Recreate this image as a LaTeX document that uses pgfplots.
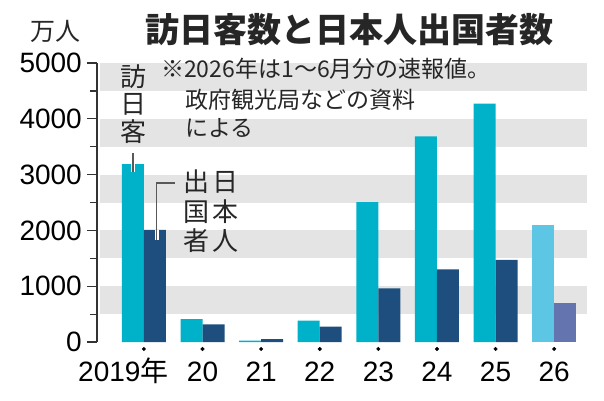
\documentclass[border=0pt]{standalone}
\usepackage{fontspec}
\usepackage{pgfplots}
\pgfplotsset{compat=1.18}
\setmainfont{Liberation Sans}
\newfontfamily\jp{Noto Sans CJK JP}
\definecolor{visit}{HTML}{00B2C9}
\definecolor{outb}{HTML}{1D4E7E}
\definecolor{visitL}{HTML}{5CC6E4}
\definecolor{outbL}{HTML}{6474AE}
\definecolor{band}{HTML}{E4E4E4}
\definecolor{axc}{HTML}{333333}
\begin{document}
\begin{tikzpicture}[x=1pt,y=1pt]
\useasboundingbox (0,0) rectangle (604,400);
\begin{axis}[
  at={(97pt,58pt)}, anchor=south west,
  scale only axis, width=490pt, height=279pt,
  xmin=-0.8, xmax=7.56, ymin=0, ymax=5000,
  clip=false,
  axis lines=left,
  axis line style={-, draw=axc, line width=1.2pt},
  x axis line style={draw=none},
  tick align=outside,
  xtick={0,...,7},
  xticklabels={\hspace*{-41pt}2019{\jp 年},20,21,22,23,24,25,26},
  xtick style={draw=none},
  xticklabel style={font=\fontsize{28}{28}\selectfont, anchor=base, inner sep=0pt, yshift=-29pt},
  ytick={0,1000,2000,3000,4000,5000},
  minor ytick={500,1500,2500,3500,4500},
  major tick length=10pt, minor tick length=7pt,
  ytick style={draw=axc, line width=1.2pt},
  minor tick style={draw=axc, line width=1.2pt},
  scaled y ticks=false,
  /pgf/number format/1000 sep={},
  /pgf/number format/assume math mode=true,
  yticklabel style={font=\fontsize{28}{28}\selectfont, inner sep=0pt, xshift=-5pt},
]
\fill[band] (axis cs:-0.75,4500) rectangle (axis cs:7.56,5000);
\fill[band] (axis cs:-0.75,3500) rectangle (axis cs:7.56,4000);
\fill[band] (axis cs:-0.75,2500) rectangle (axis cs:7.56,3000);
\fill[band] (axis cs:-0.75,1500) rectangle (axis cs:7.56,2000);
\fill[band] (axis cs:-0.75,500) rectangle (axis cs:7.56,1000);
% visitors to Japan
\addplot[ybar, bar width=22pt, bar shift=-11pt, fill=visit, draw=none] coordinates {
 (0,3188) (1,412) (2,25) (3,383) (4,2507) (5,3687) (6,4270)};
% Japanese departures
\addplot[ybar, bar width=22pt, bar shift=11pt, fill=outb, draw=none] coordinates {
 (0,2008) (1,317) (2,51) (3,277) (4,962) (5,1301) (6,1470)};
% 2026 preliminary
\addplot[ybar, bar width=22pt, bar shift=-11pt, fill=visitL, draw=none] coordinates {(7,2090)};
\addplot[ybar, bar width=22pt, bar shift=11pt, fill=outbL, draw=none] coordinates {(7,700)};
% dots under categories
\addplot[only marks, mark=*, mark size=1.8pt, color=black] coordinates {
 (0,-125) (1,-125) (2,-125) (3,-125) (4,-125) (5,-125) (6,-125) (7,-125)};
% leader lines
\draw[white, line width=4pt] (axis cs:-0.1875,3188) -- (axis cs:-0.1875,3047);
\draw[black!65, line width=1.2pt] (axis cs:-0.1875,3387) -- (axis cs:-0.1875,3047);
\draw[white, line width=4pt] (axis cs:0.22,2008) -- (axis cs:0.22,1828);
\draw[black!65, line width=1.2pt] (axis cs:0.53,2849) -- (axis cs:0.22,2849) -- (axis cs:0.22,1828);
\end{axis}
\node[font=\jp\bfseries\fontsize{34}{34}\selectfont, text=black!85] at (349,370) {訪日客数と日本人出国者数};
\node[font=\jp\fontsize{25}{25}\selectfont, text=black!85] at (55,369) {万人};
\node[anchor=west, inner sep=0pt, font=\jp\fontsize{23}{23}\selectfont, text=black!85] at (161,331) {※2026年は1～6月分の速報値。};
\node[anchor=west, inner sep=0pt, font=\jp\fontsize{23}{23}\selectfont, text=black!85] at (185,300) {政府観光局などの資料};
\node[anchor=west, inner sep=0pt, font=\jp\fontsize{23}{23}\selectfont, text=black!85] at (185,272) {による};
\begin{scope}[every node/.style={font=\jp\fontsize{26}{26}\selectfont, text=black!85, inner sep=0pt}]
\node at (133,323) {訪};
\node at (133,296) {日};
\node at (133,268) {客};
\node at (196,218) {出};
\node at (225,218) {日};
\node at (196,188) {国};
\node at (225,188) {本};
\node at (196,159) {者};
\node at (225,159) {人};
\end{scope}
\end{tikzpicture}
\end{document}
